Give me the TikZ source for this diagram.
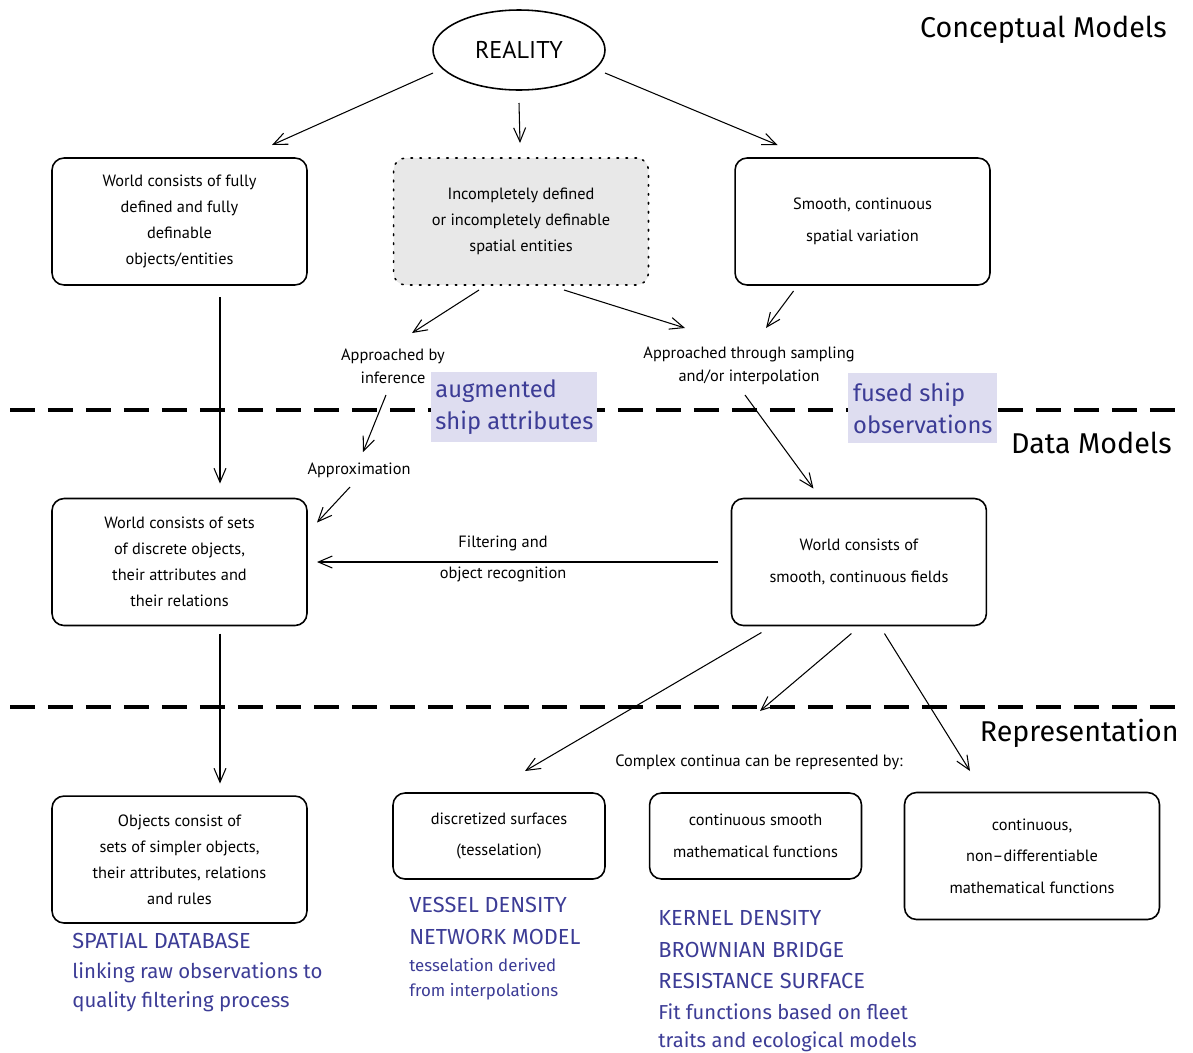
\documentclass[tikz,border=0pt]{standalone}
\usepackage{fontspec}
\setmainfont{PT Sans}
\newfontfamily\bluefamily{Fira Sans}
\usetikzlibrary{positioning, arrows.meta, shapes.geometric, calc}
\definecolor{noteblue}{RGB}{60,60,150}
\definecolor{tagfill}{RGB}{222,221,240}
\definecolor{boxgray}{RGB}{232,232,232}
\newcommand{\boxfnt}{\fontsize{9.3}{14.9}\selectfont}
\newcommand{\loosefnt}{\fontsize{9.3}{18}\selectfont}
\newcommand{\lblfnt}{\fontsize{9.3}{13}\selectfont}
\newcommand{\realfnt}{\fontsize{13.8}{15}\selectfont}
\newcommand{\headfnt}{\bluefamily\fontsize{16.3}{20}\selectfont}
\newcommand{\tagfnt}{\bluefamily\fontsize{13.5}{18}\selectfont}
\newcommand{\capsfnt}{\bluefamily\fontsize{12.4}{18}\selectfont}
\newcommand{\notefnt}{\bluefamily\fontsize{11.6}{16.4}\selectfont}
\newcommand{\smallnotefnt}{\bluefamily\fontsize{9.6}{14}\selectfont}
\newcommand{\fitfnt}{\bluefamily\fontsize{11.5}{15.9}\selectfont}

\begin{document}
\begin{tikzpicture}[
			x=0.02cm, y=-0.02cm,
			box/.style={rectangle, draw, line width=0.9pt, rounded corners=0.24cm, minimum width=5.1cm, minimum height=2.54cm, align=center, font=\boxfnt},
			smallbox/.style={box, minimum width=4.24cm, minimum height=1.72cm},
			loose/.style={font=\loosefnt},
			dotbox/.style={box, dash pattern=on 0.9pt off 4.2pt, line cap=round, fill=boxgray},
			edgetext/.style={align=center, font=\lblfnt, inner sep=1pt},
			tagbox/.style={rectangle, fill=tagfill, anchor=north west, minimum height=1.4cm, inner xsep=0.08cm, align=left, text=noteblue, font=\tagfnt},
			bluenote/.style={anchor=north west, inner sep=0pt, align=left, text=noteblue},
			heading/.style={anchor=east, inner sep=0pt, font=\headfnt},
			divider/.style={line width=2.3pt, dash pattern=on 0.5cm off 0.26cm},
			arrow/.style={-{Straight Barb[length=2.8mm, width=2.4mm]}, line width=0.6pt}
			]
			\useasboundingbox (0,0) rectangle (1193,1052);
			
			% Layer separators
			\draw [divider] (10,410) -- (1185,410);
			\draw [divider] (10,707) -- (1185,707);
			
			% Conceptual models
			\node (reality) [ellipse, draw, line width=0.9pt, minimum width=3.44cm, minimum height=1.6cm, inner sep=0pt, font=\realfnt] at (519,50) {REALITY};
			\node (full) [box] at (179.5,221.5) {World consists of fully\\defined and fully\\definable\\objects/entities};
			\node (incomplete) [dotbox, right=1.7cm of full] {Incompletely defined\\or incompletely definable\\spatial entities};
			\node (smooth) [box, loose, right=1.7cm of incomplete] {Smooth, continuous\\spatial variation};
			
			\node (byinf) [edgetext] at (393,366) {Approached by\\inference};
			\node (sampling) [edgetext] at (749,366) {Approached through sampling\\and/or interpolation};
			\node (approx) [edgetext] at (359,470) {Approximation};
			
			% Data models
			\node (discrete) [box, below=4.24cm of full] {World consists of sets\\of discrete objects,\\their attributes and\\their relations};
			\node (fields) [box, loose, right=8.46cm of discrete] {World consists of\\smooth, continuous fields};
			\node (filtering) [edgetext, font=\loosefnt] at (503,559) {Filtering and\\object recognition};
			
			% Representation
			\node (objects) [box, below=3.38cm of discrete] {Objects consist of\\sets of simpler objects,\\their attributes, relations\\and rules};
			\node (continua) [edgetext] at (759,762) {Complex continua can be represented by:};
			\node (surfaces) [smallbox, loose] at (499,836) {discretized surfaces\\(tesselation)};
			\node (smoothfn) [smallbox, loose, right=0.86cm of surfaces] {continuous smooth\\mathematical functions};
			\node (nondiff) [box, loose] at (1032,856) {continuous,\\non--differentiable\\mathematical functions};
			
			% Layer headings
			\node (conceptual) [heading] at (1167,30) {Conceptual Models};
			\node (datamodels) [heading] at (1172,443) {Data Models};
			\node (representation) [heading] at (1179,733) {Representation};
			
			% Ship data tags
			\node (augtag) [tagbox, minimum width=3.26cm] at (431,372) {augmented\\ship attributes};
			\node (fusedtag) [tagbox, minimum width=2.98cm] at (848,373) {fused ship\\observations};
			
			% Blue notes
			\node (spatialhead) [bluenote, font=\capsfnt] at (72,933) {SPATIAL DATABASE};
			\node (spatialnote) [bluenote, font=\notefnt] at (72,962) {linking raw observations to\\quality filtering process};
			\node (vesselhead) [bluenote, font=\capsfnt] at (409,897) {VESSEL DENSITY\\NETWORK MODEL};
			\node (vesselnote) [bluenote, font=\smallnotefnt] at (409,958) {tesselation derived\\from interpolations};
			\node (kernelhead) [bluenote, font=\capsfnt] at (658,910) {KERNEL DENSITY\\BROWNIAN BRIDGE\\RESISTANCE SURFACE};
			\node (kernelnote) [bluenote, font=\fitfnt] at (658,1003) {Fit functions based on fleet\\traits and ecological models};
			
			% Arrows
			\draw [arrow] ($(reality)+(-86,23)$) -- ($(full)+(92.5,-76.5)$);
			\draw [arrow] ($(reality)+(0,53)$) -- ($(incomplete)+(-1,-78.5)$);
			\draw [arrow] ($(reality)+(86,23)$) -- ($(smooth)+(-85,-76.5)$);
			\draw [arrow] ($(full)+(40.5,75.5)$) -- ($(discrete)+(40.5,-78.5)$);
			\draw [arrow] ($(incomplete)+(-42,68.5)$) -- ($(byinf)+(19,-33)$);
			\draw [arrow] ($(incomplete)+(43,68.5)$) -- ($(sampling)+(-64,-38)$);
			\draw [arrow] ($(smooth)+(-69,69.5)$) -- ($(sampling)+(17,-38)$);
			\draw [arrow] ($(byinf)+(-7,29)$) -- ($(approx)+(4,-18)$);
			\draw [arrow] ($(approx)+(-9,17)$) -- ($(discrete)+(137.5,-39.5)$);
			\draw [arrow] ($(sampling)+(-4,29)$) -- ($(fields)+(-45.5,-73.5)$);
			\draw [arrow] ($(fields)+(-140.5,0)$) -- ($(discrete)+(137.5,0)$);
			\draw [arrow] ($(discrete)+(40.5,71.5)$) -- ($(objects)+(40.5,-76)$);
			\draw [arrow] ($(fields)+(-97.5,70.5)$) -- ($(surfaces)+(26,-65)$);
			\draw [arrow] ($(fields)+(-7.5,71.5)$) -- ($(continua)+(1,-51)$);
			\draw [arrow] ($(fields)+(25.5,71.5)$) -- ($(nondiff)+(-62,-85)$);
		\end{tikzpicture}
\end{document}
